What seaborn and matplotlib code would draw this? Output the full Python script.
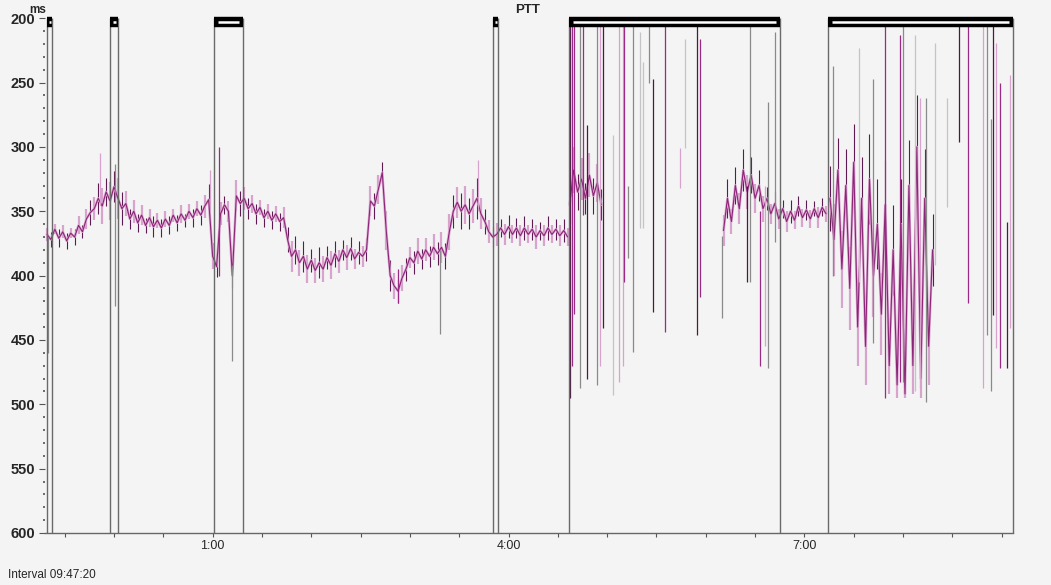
import numpy as np
import pandas as pd
import matplotlib
matplotlib.use("Agg")
import matplotlib.pyplot as plt
import seaborn as sns

# ==============================
# DATA  (time in hours on the clock, PTT in ms)
# ==============================
sample_step = 0.04

# calm part of the night, starts at -0.68 h
calm_start = -0.68
ptt_calm = [368, 372, 364, 371, 366, 373, 367, 370, 361, 366,
            356, 351, 348, 340, 346, 335, 342, 331, 340, 348,
            344, 356, 350, 359, 353, 361, 355, 362, 357, 363,
            356, 361, 353, 359, 352, 357, 350, 355, 348, 353,
            346, 341, 385, 393, 352, 345, 350, 400, 338, 344,
            340, 348, 344, 352, 347, 355, 350, 357, 352, 358,
            355, 372, 385, 380, 390, 385, 395, 388, 396, 390,
            395, 386, 392, 383, 389, 380, 386, 379, 387, 382,
            385, 380, 342, 346, 333, 320, 365, 400, 408, 412,
            402, 395, 386, 390, 381, 387, 380, 385, 378, 383,
            378, 385, 366, 350, 343, 350, 345, 352, 346, 340,
            352, 358, 366, 370, 368, 363, 368, 362, 368, 363,
            369, 363, 368, 364, 370, 365, 369, 363, 368, 364,
            369, 365, 370]
# beat-to-beat scatter around each sample (half width, ms)
jitter_calm = [5, 6, 4, 7, 5, 6, 4, 6, 7, 5,
               8, 10, 9, 12, 14, 11, 15, 12, 16, 13,
               10, 8, 9, 7, 8, 6, 7, 8, 6, 7,
               6, 7, 5, 6, 7, 5, 6, 7, 6, 8,
               9, 12, 10, 8, 9, 7, 8, 10, 12, 10,
               9, 8, 7, 8, 6, 7, 6, 7, 6, 7,
               8, 10, 12, 11, 10, 12, 11, 9, 10, 12,
               10, 9, 11, 10, 9, 8, 10, 9, 8, 9,
               8, 9, 12, 10, 11, 8, 15, 12, 10, 9,
               10, 9, 8, 9, 10, 8, 9, 8, 10, 9,
               12, 10, 14, 13, 12, 14, 15, 12, 13, 16,
               12, 10, 9, 8, 9, 7, 8, 9, 7, 8,
               8, 9, 7, 8, 9, 7, 8, 9, 7, 8,
               8, 9, 7]

# start of first artefact block
block_start = 4.62
ptt_block = [345, 318, 335, 325, 340, 322, 338, 328, 345]
jitter_block = [15, 18, 14, 16, 12, 17, 14, 15, 12]

# quiet stretch around 7:00
quiet_start = 6.18
ptt_quiet = [365, 340, 358, 330, 348, 318, 335, 322, 340, 330,
             348, 340, 352, 344, 356, 348, 358, 350, 357, 346,
             355, 349, 356, 348, 355, 347, 352]
jitter_quiet = [12, 15, 10, 14, 12, 16, 13, 14, 11, 12,
                10, 9, 8, 9, 8, 7, 8, 9, 7, 8,
                7, 8, 7, 6, 8, 7, 6]

# restless part at the end
restless_start = 7.26
ptt_restless = [340, 372, 318, 395, 330, 410, 312, 440, 340, 455,
                325, 400, 360, 430, 345, 470, 380, 485, 360, 492,
                330, 470, 300, 480, 340, 455, 380]
jitter_restless = [25, 28, 25, 30, 28, 32, 30, 30, 32, 30,
                   35, 32, 35, 32, 35, 22, 35, 10, 35, 3,
                   35, 22, 40, 15, 38, 30, 28]

# marked (artefact) intervals
event_start = [-0.677, -0.039, 1.016, 3.843, 4.613, 7.239]
event_end = [-0.627, 0.043, 1.309, 3.894, 6.752, 9.114]

# single outlier beats drawn as vertical strokes
spike_t = [-0.667, -0.140, 0.012, 0.975, 1.066, 1.198, 2.880, 3.306, 3.691,
           4.624, 4.644, 4.664, 4.725, 4.755, 4.796, 4.897, 4.928, 4.958,
           5.060, 5.121, 5.161, 5.171, 5.212, 5.262, 5.333, 5.364, 5.424,
           5.465, 5.587, 5.739, 5.789, 5.911, 5.941, 6.164, 6.417, 6.448,
           6.549, 6.599, 6.630, 6.701,
           7.289, 7.553, 7.695, 7.816, 7.969, 7.999, 8.120, 8.171, 8.232,
           8.323, 8.444, 8.566, 8.657, 8.810, 8.850, 8.891, 8.911, 8.942,
           8.982, 9.053, 9.083]
spike_top = [370, 305, 313, 318, 300, 392, 395, 380, 310,
             205, 205, 205, 205, 205, 283, 205, 205, 205,
             291, 205, 205, 205, 330, 205, 211, 234, 205,
             247, 205, 301, 216, 205, 216, 369, 330, 205,
             350, 330, 265, 211,
             237, 223, 247, 205, 213, 205, 213, 262, 262,
             219, 262, 205, 205, 205, 205, 278, 205, 219,
             250, 358, 244]
spike_bot = [460, 345, 424, 350, 400, 466, 421, 445, 350,
             495, 470, 430, 487, 353, 480, 485, 470, 441,
             493, 483, 470, 405, 386, 459, 363, 363, 250,
             428, 444, 332, 301, 446, 417, 433, 405, 405,
             470, 455, 472, 374,
             400, 405, 452, 495, 483, 483, 490, 487, 498,
             392, 347, 296, 421, 487, 446, 490, 431, 456,
             472, 472, 441]
spike_col = ["g", "p", "g", "p", "m", "g", "m", "g", "p",
             "d", "m", "m", "g", "m", "d", "g", "p", "d",
             "l", "p", "p", "m", "g", "g", "l", "l", "g",
             "d", "m", "p", "l", "d", "m", "g", "d", "g",
             "m", "p", "g", "g",
             "g", "l", "g", "m", "m", "g", "l", "p", "g",
             "l", "l", "d", "m", "p", "g", "g", "d", "p",
             "m", "d", "p"]

tick_labels = {1: "1:00", 4: "4:00", 7: "7:00"}

palette = {"d": "#4a1a42", "m": "#9b2a84", "p": "#d7a2cc",
           "g": "#8a8a8a", "l": "#c4c4c4"}

# ==============================
# BUILD TABLE
# ==============================
parts = []
for name, t0, vals, jit in [("calm", calm_start, ptt_calm, jitter_calm),
                            ("block", block_start, ptt_block, jitter_block),
                            ("quiet", quiet_start, ptt_quiet, jitter_quiet),
                            ("restless", restless_start, ptt_restless, jitter_restless)]:
    parts.append(pd.DataFrame({
        "hour": t0 + sample_step * np.arange(len(vals)),
        "ptt": vals,
        "jit": jit,
        "seg": name,
    }))
df = pd.concat(parts, ignore_index=True)

# ==============================
# PLOT
# ==============================
bg = "#f4f4f4"
sns.set_theme(style="white")
plt.rcParams["font.family"] = ["Liberation Sans", "DejaVu Sans"]

fig = plt.figure(figsize=(10.51, 5.85), dpi=100, facecolor=bg)
ax = fig.add_axes([0.0428, 0.0889, 0.9215, 0.880])
ax.set_facecolor(bg)

# scatter band of the beats: alternate pink and dark strokes
even = df.index % 2 == 0
ax.vlines(df.hour[even], df.ptt[even] - df.jit[even], df.ptt[even] + df.jit[even],
          color="#d8a4cd", lw=1.6)
ax.vlines(df.hour[~even], df.ptt[~even] - df.jit[~even], df.ptt[~even] + df.jit[~even],
          color="#5e1a52", lw=0.8)

sns.lineplot(data=df, x="hour", y="ptt", units="seg", estimator=None,
             sort=False, color="#dcaad2", lw=1.8, ax=ax)
sns.lineplot(data=df, x="hour", y="ptt", units="seg", estimator=None,
             sort=False, color="#8c2477", lw=0.8, ax=ax)

for t, top, bot, c in zip(spike_t, spike_top, spike_bot, spike_col):
    ax.vlines(t, top, bot, color=palette[c], lw=0.9)

# marked intervals: two vertical lines and a bar on top
for s, e in zip(event_start, event_end):
    ax.vlines([s, e], 200, 600, color="#6a6a6a", lw=1.0, clip_on=False)
    ax.hlines(203, s, e, color="black", lw=7.5, clip_on=False)
    m = min(0.3 * (e - s), 0.04)
    ax.hlines(203, s + m, e - m, color="white", lw=1.8, clip_on=False)

ax.set_ylim(600, 200)
ax.set_xlim(-0.70, 9.12)

ax.set_yticks(np.arange(200, 601, 50))
ax.set_yticks(np.arange(200, 601, 10), minor=True)
ax.set_yticklabels([str(v) for v in range(200, 601, 50)],
                   fontsize=10.5, fontweight="bold")

xt = np.arange(-0.5, 9.01, 0.5)
ax.set_xticks(xt)
ax.set_xticklabels([tick_labels.get(int(v), "") if v == int(v) else "" for v in xt],
                   fontsize=9)

ax.tick_params(axis="y", which="major", left=True, length=4, width=0.8,
               color="#555555", pad=3)
ax.tick_params(axis="y", which="minor", left=True, length=1.5, width=1.2,
               color="#555555")
ax.tick_params(axis="x", which="major", bottom=True, length=3, width=0.8,
               color="#555555", pad=2)

for side in ["top", "right", "left"]:
    ax.spines[side].set_visible(False)
ax.spines["bottom"].set_color("#666666")
ax.spines["bottom"].set_linewidth(1.0)
ax.set_xlabel("")
ax.set_ylabel("")

fig.text(38 / 1051, 1 - 10 / 585, "ms", fontsize=8.5, fontweight="bold",
         ha="center", va="center")
fig.text(528 / 1051, 1 - 10 / 585, "PTT", fontsize=9.5, fontweight="bold",
         ha="center", va="center")
fig.text(8 / 1051, 1 - 575 / 585, "Interval 09:47:20", fontsize=8.5,
         ha="left", va="center")

fig.savefig("out.png", dpi=100, facecolor=bg)
